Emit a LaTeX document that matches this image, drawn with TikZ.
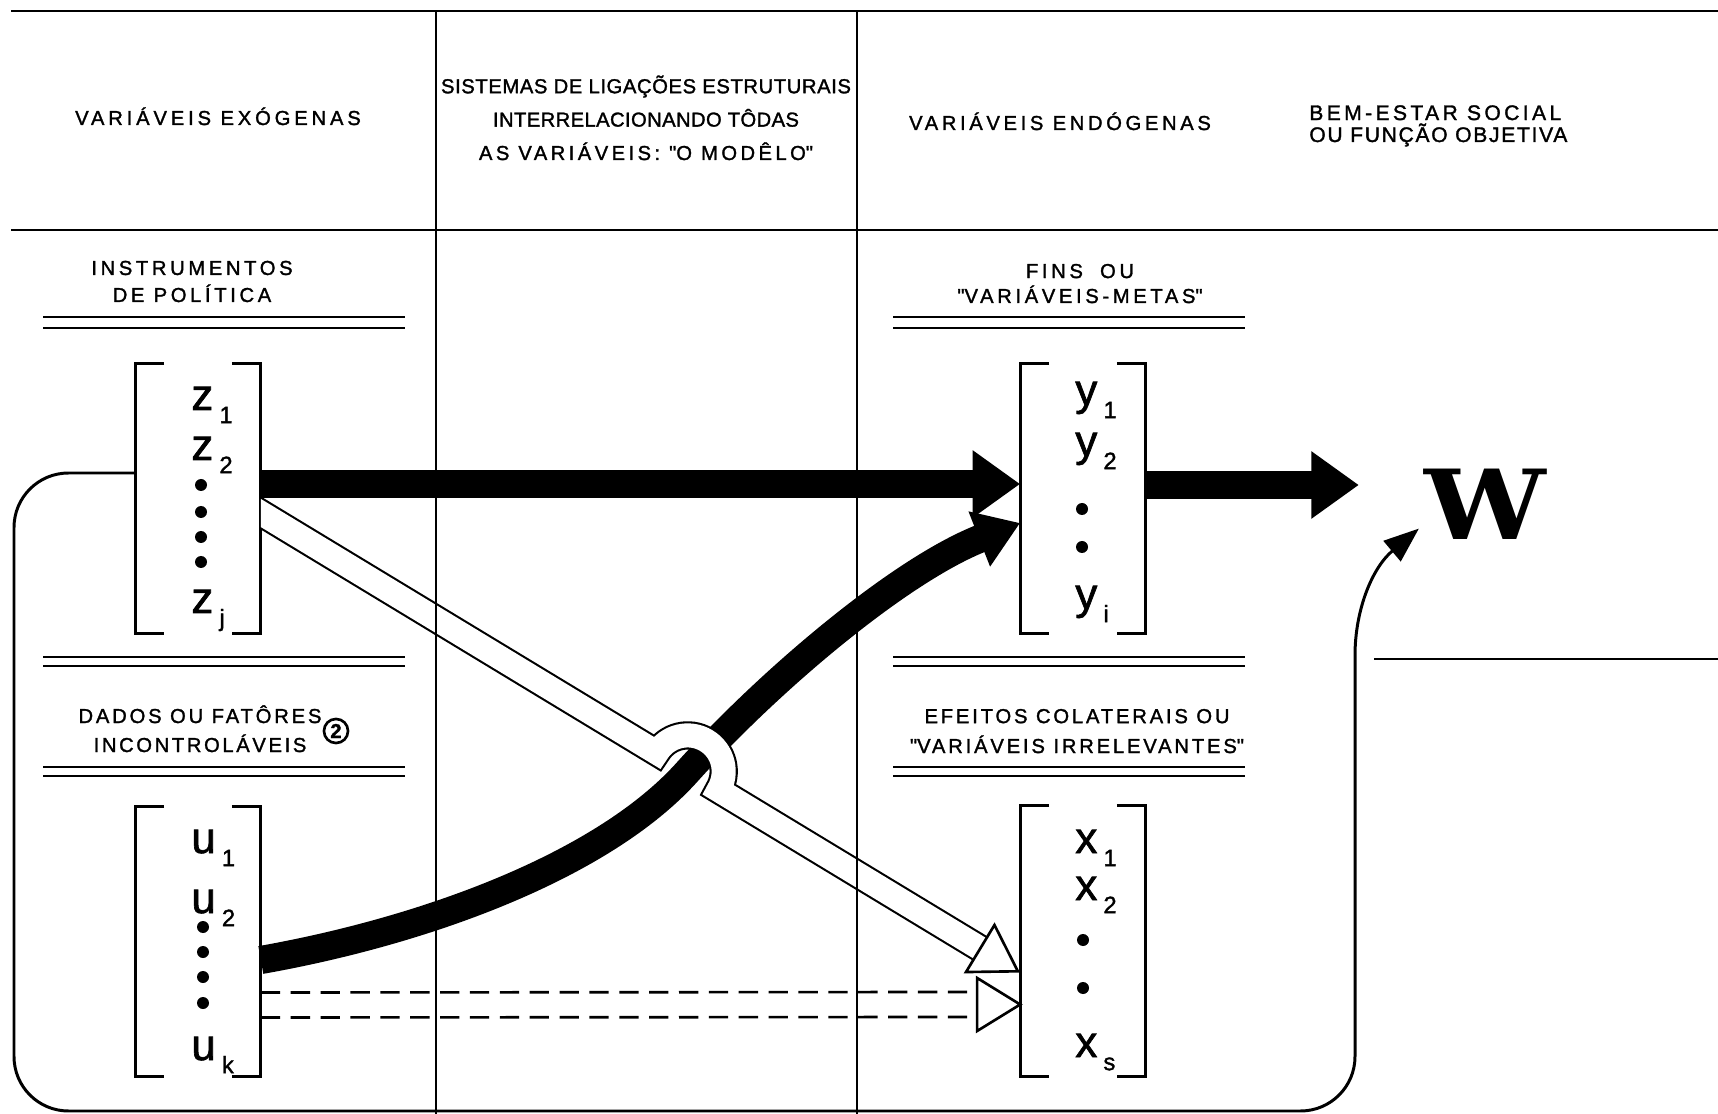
\documentclass[tikz,border=0pt]{standalone}
\usepackage{fontspec}
\setmainfont{Liberation Sans}[FakeBold=1.5]
\newfontfamily\wfont{DejaVu Serif}
\usetikzlibrary{arrows.meta,calc}
\newcommand\hfont{\fontsize{11.5pt}{13pt}\selectfont}
\newcommand\ls[1]{\addfontfeatures{LetterSpace=#1}}
\newcommand\qq{\textquotedbl}
\newcommand\vent[2]{{\fontsize{25pt}{25pt}\selectfont #1}\hspace{3.5pt}\raisebox{-7.5pt}{\fontsize{13.5pt}{14pt}\selectfont #2}}
\tikzset{
  grid/.style={line width=1.5pt},
  gridv/.style={line width=1.2pt},
  rule/.style={line width=1.2pt},
  head/.style={font=\hfont, inner sep=0pt, anchor=base, align=center},
  vecbox/.style={minimum width=2.5cm, minimum height=5.4cm, inner sep=0pt},
  brk/.style={line width=1.8pt},
  ent/.style={inner sep=0pt, anchor=base west},
  fatarrow/.style={line width=16pt, -{Triangle[length=27pt,width=36.5pt]}},
  fatcurve/.style={line width=16pt, -{Triangle[length=25pt,width=32pt]}},
  hollowband/.style={line width=1.2pt, double=white, double distance=13.7pt, line join=miter},
  dashline/.style={line width=1.5pt, dash pattern=on 11pt off 6pt},
  openhead/.style={line width=1.5pt, fill=white, line join=miter},
  loopline/.style={line width=1.7pt, -{Triangle[length=20pt,width=15pt]}}
}
\begin{document}
\begin{tikzpicture}[x=0.02cm, y=-0.02cm]
\useasboundingbox (0,0) rectangle (1718,1114);
\node[head] (exo) at (218,125) {\ls{19}VARIÁVEIS EXÓGENAS};
\node[head, font=\fontsize{11.5pt}{19pt}\selectfont] (modelo) at (646,160) {\ls{3}SISTEMAS DE LIGAÇÕES ESTRUTURAIS\\ \ls{2}INTERRELACIONANDO TÔDAS\\ \ls{17}AS VARIÁVEIS: \qq O MODÊLO\qq};
\node[head] (endo) at (1060,130) {\ls{18}VARIÁVEIS ENDÓGENAS};
\node[head, anchor=base west, align=left, font=\fontsize{12pt}{12.5pt}\selectfont] (bem) at (1309,142) {\ls{16}BEM-ESTAR SOCIAL\\ \ls{8}OU FUNÇÃO OBJETIVA};
\node[head, font=\fontsize{11.5pt}{15.4pt}\selectfont] (instr) at (192,302) {\ls{18}INSTRUMENTOS\\ \ls{18}DE POLÍTICA};
\node[head, font=\fontsize{11.5pt}{16.5pt}\selectfont] (dados) at (200,752) {\ls{14}DADOS OU FATÔRES\\ \ls{13}INCONTROLÁVEIS};
\node[head, font=\fontsize{11.5pt}{14.2pt}\selectfont] (fins) at (1080,303) {\ls{18}FINS\hspace{4.5pt} OU\\ \ls{18}\qq VARIÁVEIS-METAS\qq};
\node[head, font=\fontsize{11.5pt}{17pt}\selectfont] (efeitos) at (1077,753) {\ls{14}EFEITOS COLATERAIS OU\\ \ls{14}\qq VARIÁVEIS IRRELEVANTES\qq};
\node[circle, draw, line width=1.5pt, minimum size=13.7pt, inner sep=0pt, font=\fontsize{11.5pt}{11.5pt}\selectfont\bfseries] (nota) at (336,731) {2};
\foreach \y in {317,328,657,666,767,776} {\draw[rule] (43,\y) -- (405,\y); \draw[rule] (893,\y) -- (1245,\y);}
\node[vecbox] (zvec) at (198,498.5) {}; \node[vecbox] (uvec) at (198,941.5) {};
\node[vecbox] (yvec) at (1083,498.5) {}; \node[vecbox] (xvec) at (1083,941) {};
\foreach \v in {zvec,uvec,yvec,xvec} {
  \draw[brk] ([xshift=0.58cm]\v.north west) -| (\v.south west) -- ++(29,0);
  \draw[brk] ([xshift=-0.58cm]\v.north east) -| (\v.south east) -- ++(-29,0);
}
\foreach \n/\t/\s/\x/\y in {z1/z/1/191/410, z2/z/2/191/460, zj/z/j/191/613, u1/u/1/191/853, u2/u/2/191/913, uk/u/k/191/1060, y1/y/1/1075/405, y2/y/2/1075/456, yi/y/i/1075/609, x1/x/1/1075/853, x2/x/2/1075/900, xs/x/s/1075/1057}
  \node[ent] (\n) at (\x,\y) {\vent{\t}{\s}};
\foreach \x/\y in {201/485, 201/512, 201/537, 201/562, 203/927, 203/952, 203/977, 203/1003, 1082/509, 1082/547, 1083/940, 1083/988}
  \fill (\x,\y) circle (6);
\node[inner sep=0pt, font=\wfont\bfseries\fontsize{55pt}{55pt}\selectfont] (W) at (1485,504) {\scalebox{1.12}[1]{W}};
\draw[loopline] ([yshift=0.51cm]zvec.west) [rounded corners=31pt] -| (14,1111) -| (1355,710) [sharp corners] .. controls (1355,610) and (1372,568) .. ([shift={(-0.1cm,0.22cm)}]W.south west);
\coordinate (bandin) at ([yshift=-0.29cm]zvec.east);
\coordinate (hop) at ($(bandin)+(31.19:499)$);
\coordinate (bandend) at ($(bandin)+(31.19:841)$);
\coordinate (bandtip) at ($(bandin)+(31.19:885)$);
\draw[fatcurve] ([yshift=-0.37cm]uvec.east) .. controls (430,930) and (605,864) .. (hop) .. controls (770,680) and (900,570) .. ([yshift=-0.49cm]yvec.west);
\begin{scope}
\clip (zvec.north east) rectangle (xvec.south east);
\draw[hollowband] (bandin) ++(211.19:15) -- ($(hop)+(211.19:36)$) arc[start angle=211.19, end angle=391.19, radius=36] -- (bandend);
\end{scope}
\draw[openhead] (bandtip) -- ($(bandend)+(121.19:27.5)$) -- ($(bandend)+(-58.81:27.5)$) -- cycle;
\draw[fatarrow] ([yshift=0.29cm]zvec.east) -- ([yshift=0.29cm]yvec.west);
\coordinate (yout) at ([yshift=0.27cm]yvec.east);
\draw[fatarrow, shorten >=37pt] (yout) -- (yout -| W.west);
\draw[dashline] ([yshift=-1.02cm]uvec.east) -- ([yshift=-1.02cm,xshift=-0.86cm]xvec.west);
\draw[dashline] ([yshift=-1.52cm]uvec.east) -- ([yshift=-1.52cm,xshift=-0.86cm]xvec.west);
\draw[openhead] ([yshift=-1.27cm]xvec.west) -- ++(-43,-26.5) -- ++(0,53) -- cycle;
\draw[grid] (11,11) -- (1718,11) (11,230) -- (1718,230);
\draw[gridv] (436,11) -- (436,1114) (857,11) -- (857,1114) (1374,659) -- (1718,659);
\end{tikzpicture}
\end{document}
